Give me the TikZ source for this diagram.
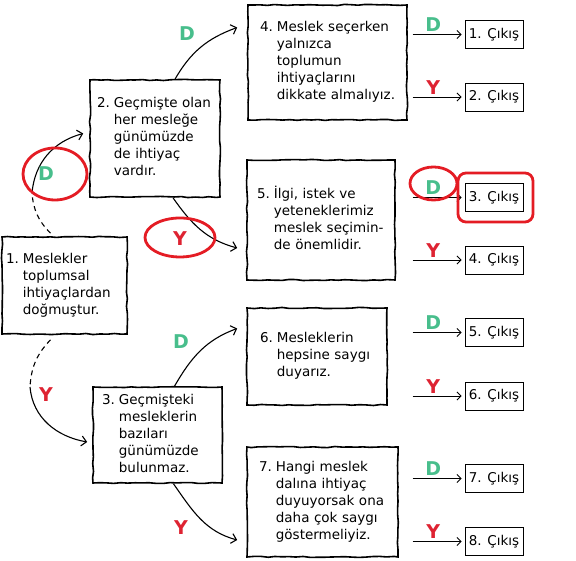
\documentclass[tikz,border=0pt]{standalone}
\usepackage{fontspec}
\setmainfont{DejaVu Sans}
\usepackage{tikz}
\usetikzlibrary{arrows.meta, decorations.pathmorphing}

\definecolor{dgreen}{RGB}{72,190,140}
\definecolor{yred}{RGB}{222,35,50}
\definecolor{markred}{RGB}{228,28,36}

\newcommand{\boxfont}{\fontsize{13.5}{17}\selectfont}
\newcommand{\markfont}{\fontsize{19}{19}\selectfont\bfseries}
\newcommand{\qtext}[2]{\begin{tabular}{@{}l@{\hspace{4pt}}l@{}}#1 & \begin{tabular}[t]{@{}l@{}}#2\end{tabular}\end{tabular}}

\begin{document}
\pgfmathsetseed{3}
\begin{tikzpicture}[x=1pt, y=1pt, ->, >={Straight Barb[length=5pt, width=10pt]}, line width=1.1pt,
		stepbox/.style={-, draw, line width=1.6pt, decorate, decoration={random steps, segment length=7pt, amplitude=.6pt}, align=left, inner ysep=0pt, font=\boxfont},
		exitbox/.style={-, draw, line width=.9pt, minimum width=58pt, minimum height=28pt, inner sep=0pt, font=\boxfont},
		dmark/.style={text=dgreen, font=\markfont},
		ymark/.style={text=yred, font=\markfont},
		marker/.style={-, draw=markred, line width=2.8pt}]
	\useasboundingbox (0,0) rectangle (576,561);

	% question boxes
	\node[stepbox, text width=117pt, inner xsep=4pt, minimum height=97pt] (b1) at (64.5,275.5) {\qtext{1.}{Meslekler\\toplumsal\\ihtiyaçlardan\\doğmuştur.}};
	\node[stepbox, text width=116pt, inner xsep=7pt, minimum height=117pt] (b2) at (155,422.5) {\qtext{2.}{Geçmişte olan\\her mesleğe\\günümüzde\\de ihtiyaç\\vardır.}};
	\node[stepbox, text width=111pt, inner xsep=9pt, minimum height=96pt] (b3) at (157.5,126) {\qtext{3.}{Geçmişteki\\mesleklerin\\bazıları\\günümüzde\\bulunmaz.}};
	\node[stepbox, text width=135pt, inner xsep=12pt, minimum height=115pt] (b4) at (327.5,498.5) {\qtext{4.}{Meslek seçerken\\yalnızca\\toplumun\\ihtiyaçlarını\\dikkate almalıyız.}};
	\node[stepbox, text width=128pt, inner xsep=10pt, minimum height=120pt] (b5) at (321,341) {\qtext{5.}{İlgi, istek ve\\yeteneklerimiz\\meslek seçimin-\\de önemlidir.}};
	\node[stepbox, text width=114pt, inner xsep=13pt, minimum height=97pt] (b6) at (317,204.5) {\qtext{6.}{Mesleklerin\\hepsine saygı\\duyarız.}};
	\node[stepbox, text width=127pt, inner xsep=12pt, minimum height=110pt] (b7) at (322.5,59) {\qtext{7.}{Hangi meslek\\dalına ihtiyaç\\duyuyorsak ona\\daha çok saygı\\göstermeliyiz.}};

	% exits
	\foreach \i/\y in {1/526.5, 2/464, 3/363.5, 4/301, 5/228.5, 6/165, 7/82.5, 8/19.5}
		\node[exitbox] (o\i) at (494,\y) {\i. Çıkış};
	\foreach \i/\lbl/\sty in {1/D/dmark, 2/Y/ymark, 3/D/dmark, 4/Y/ymark, 5/D/dmark, 6/Y/ymark, 7/D/dmark, 8/Y/ymark} {
		\coordinate (s\i) at ([xshift=-52pt]o\i.west);
		\draw[line width=.9pt, shorten >=3pt, >={Straight Barb[length=4pt, width=8pt]}] (s\i) -- node[\sty, above=-1pt, pos=.4] {\lbl} (o\i);
	}

	% branches from box 1
	\coordinate (d1) at (32,368);
	\coordinate (d2) at (30,174);
	\draw[-, dash pattern=on 5pt off 4pt] ([xshift=-14pt, yshift=3pt]b1.north) to[bend left=20] (d1);
	\draw (d1) to[out=85, in=195] ([xshift=-6pt, yshift=5pt]b2.west);
	\draw[-, dash pattern=on 5pt off 4pt] ([xshift=-14pt, yshift=-5pt]b1.south) to[bend right=20] (d2);
	\draw (d2) to[out=-85, in=170] ([xshift=-5pt, yshift=-7pt]b3.west);

	% branches from boxes 2 and 3
	\draw ([xshift=20pt]b2.north) to[out=60, in=200] ([xshift=-10pt, yshift=35pt]b4.west);
	\draw ([xshift=18pt]b2.south) to[out=-55, in=165] ([xshift=-9pt, yshift=-28pt]b5.west);
	\draw ([xshift=17pt]b3.north) to[out=60, in=200] ([xshift=-9pt, yshift=28pt]b6.west);
	\draw ([xshift=16pt]b3.south) to[out=-55, in=165] ([xshift=-9pt, yshift=-38pt]b7.west);

	\node[dmark] (l1) at (46,387) {D};
	\node[ymark] (l2) at (46,166) {Y};
	\node[dmark] (l3) at (187,527) {D};
	\node[ymark] (l4) at (180,322) {Y};
	\node[dmark] (l5) at (181,219) {D};
	\node[ymark] (l6) at (181,33) {Y};

	% red marks
	\draw[marker] (55,387) ellipse [x radius=32pt, y radius=26pt];
	\draw[marker] (180,323.5) ellipse [x radius=35pt, y radius=19.5pt];
	\draw[marker] (433.5,377.5) ellipse [x radius=23.5pt, y radius=16.5pt];
	\draw[marker, rounded corners=8pt] (458,339) rectangle (533,388);
\end{tikzpicture}
\end{document}
